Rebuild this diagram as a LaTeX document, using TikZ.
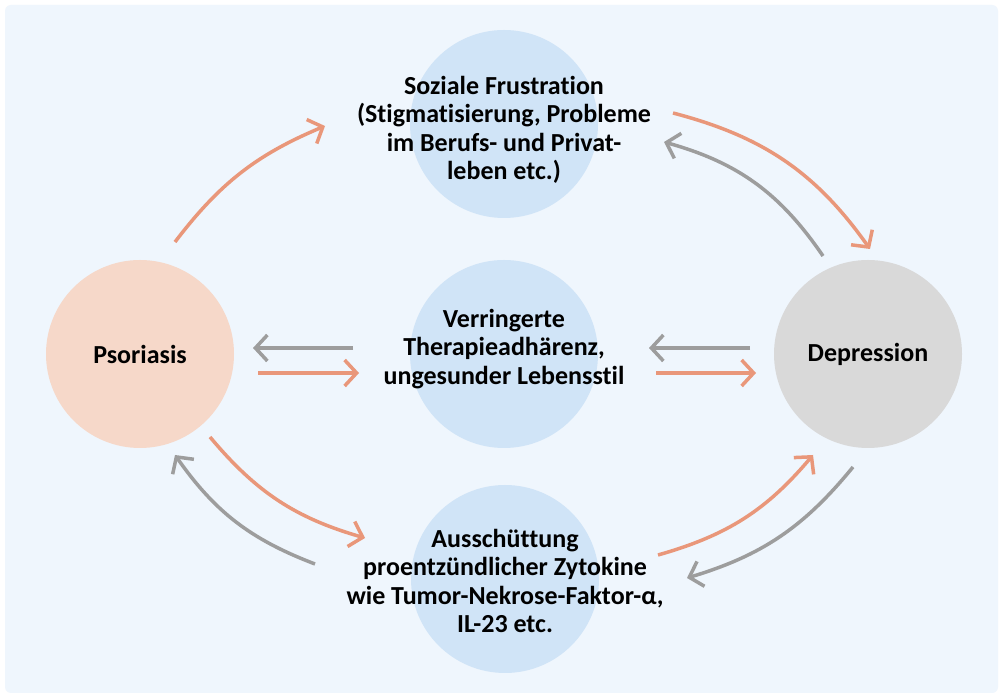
\documentclass[tikz,border=0pt]{standalone}
\usepackage{fontspec}
\setmainfont{Carlito}[Ligatures=NoCommon]
\usetikzlibrary{arrows.meta,positioning}
\definecolor{canvas}{HTML}{EFF6FD}
\definecolor{peach}{HTML}{F6D8C9}
\definecolor{stone}{HTML}{D9D9D9}
\definecolor{sky}{HTML}{D0E4F7}
\definecolor{coral}{HTML}{E9977A}
\definecolor{ash}{HTML}{9D9D9D}

\begin{document}
\begin{tikzpicture}[
  x=1pt,y=1pt,
  font=\fontsize{26}{28.5}\selectfont\bfseries,
  bubble/.style={circle,minimum size=188pt,inner sep=0pt,draw=none},
  txt/.style={align=center,inner sep=0pt},
  fw/.style={-{Straight Barb[length=12pt,width=26pt]},line width=3.5pt,coral},
  bw/.style={-{Straight Barb[length=12pt,width=26pt]},line width=3.5pt,ash}
]
\fill[white] (0,0) rectangle (1003,698);
\fill[canvas,rounded corners=6pt] (5,5) rectangle (998,693);
% circles
\node[bubble,fill=peach] (pso) at (140,344) {};
\node[bubble,fill=stone] (dep) at (868,344) {};
\node[bubble,fill=sky] (soz) at (504,574) {};
\node[bubble,fill=sky] (ther) at (504,344) {};
\node[bubble,fill=sky] (zyt) at (505,119) {};
% texts
\node[txt] (psoT) at (pso) {Psoriasis};
\node[txt] (depT) at (dep) {Depression};
\node[txt] (sozT) at (504,568) {Soziale Frustration\\(Stigmatisierung, Probleme\\im Berufs- und Privat-\\leben etc.)};
\node[txt] (therT) at (504,349) {Verringerte\\Therapieadhärenz,\\ungesunder Lebensstil};
\node[txt] (zytT) at (505,117) {Ausschüttung\\proentzündlicher Zytokine\\wie Tumor-Nekrose-Faktor-α,\\IL-23 etc.};
% arrow ends
\coordinate (psoUp) at (175,456);  \coordinate (sozIn) at (325,572);
\coordinate (sozOut) at (673,585); \coordinate (depIn) at (870,449);
\coordinate (depUp) at (823,442);  \coordinate (sozBack) at (664,556);
\coordinate (psoDn) at (210,261);  \coordinate (zytIn) at (365,160);
\coordinate (zytOut) at (315,134); \coordinate (psoIn) at (175,243);
\coordinate (zytUp) at (658,143);  \coordinate (depLo) at (813,243);
\coordinate (depDn) at (853,231);  \coordinate (zytBack) at (687,120);
\coordinate (thL1) at (353,350);   \coordinate (psoR1) at (253,350);
\coordinate (psoR2) at (258,325);  \coordinate (thL2) at (359,325);
\coordinate (depL1) at (750,350);  \coordinate (thR1) at (649,350);
\coordinate (thR2) at (656,325);   \coordinate (depL2) at (756,325);
% arrows
\draw[fw] (psoUp) to[bend left=15] (sozIn);
\draw[fw] (sozOut) to[bend left=20] (depIn);
\draw[bw] (depUp) to[bend right=20] (sozBack);
\draw[fw] (psoDn) to[bend right=17] (zytIn);
\draw[bw] (zytOut) to[bend left=17] (psoIn);
\draw[fw] (zytUp) to[bend right=17] (depLo);
\draw[bw] (depDn) to[bend left=17] (zytBack);
\draw[bw] (thL1) -- (psoR1);
\draw[fw] (psoR2) -- (thL2);
\draw[bw] (depL1) -- (thR1);
\draw[fw] (thR2) -- (depL2);
\end{tikzpicture}
\end{document}
